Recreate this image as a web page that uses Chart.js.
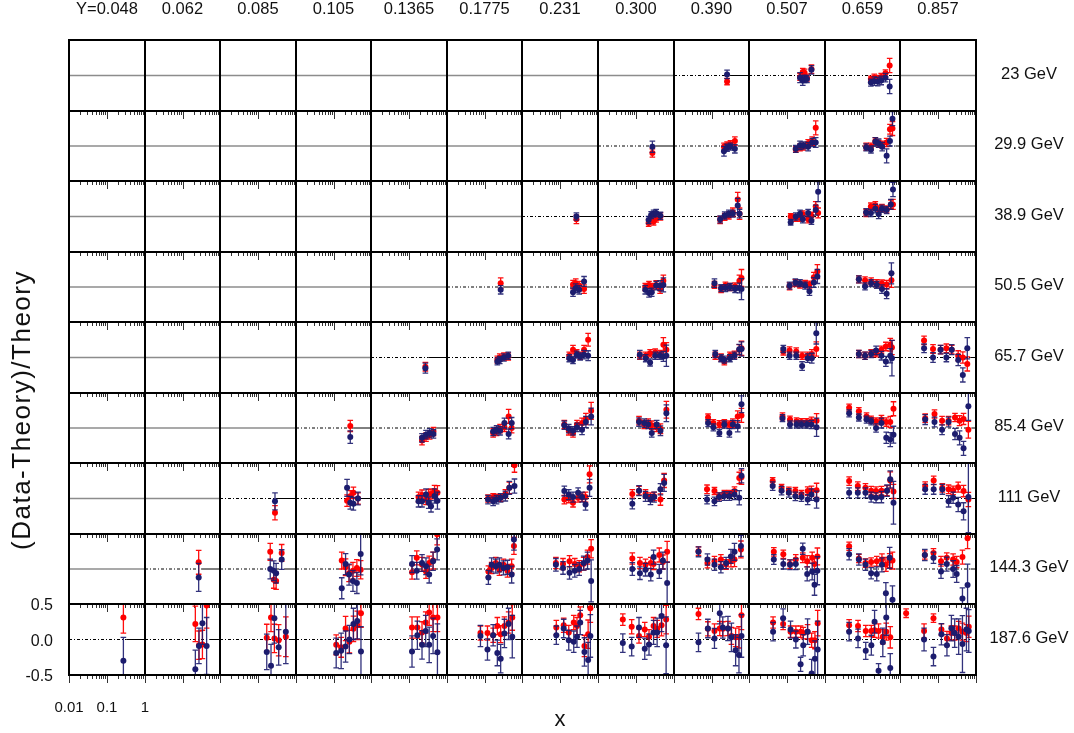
<!DOCTYPE html>
<html><head><meta charset="utf-8">
<script src="https://cdn.jsdelivr.net/npm/chart.js@4.4.1/dist/chart.umd.min.js"></script>
<style>
html,body{margin:0;padding:0;background:#fff;}
#wrap{position:relative;width:1074px;height:733px;overflow:hidden;font-family:'Liberation Sans',Arial,sans-serif;color:#111;}
#wrap canvas{position:absolute;}
.lbl{position:absolute;white-space:nowrap;line-height:1;text-align:center;}
</style></head><body><div id="wrap"></div>
<script>
// ---- labels ----
const yBins = ['Y=0.048','0.062','0.085','0.105','0.1365','0.1775','0.231','0.300','0.390','0.507','0.659','0.857'];
const energies = ['23 GeV','29.9 GeV','38.9 GeV','50.5 GeV','65.7 GeV','85.4 GeV','111 GeV','144.3 GeV','187.6 GeV'];
const yTickValues = [-0.5, 0, 0.5];
const yTickText = ['-0.5', '0.0', '0.5'];
const xLabelTicks = [0.01, 0.1, 1];
const xLabelText = ['0.01', '0.1', '1'];
const xMinorTicks = [0.02,0.03,0.04,0.05,0.06,0.07,0.08,0.09,0.2,0.3,0.4,0.5,0.6,0.7,0.8,0.9];
const xMajorTicks = [0.01, 0.1, 1];

// ---- data (panels with points) ----
const panelRow = [0,0,0, 1,1,1,1, 2,2,2,2,2, 3,3,3,3,3,3, 4,4,4,4,4,4,4,4,
  5,5,5,5,5,5,5,5,5, 6,6,6,6,6,6,6,6,6,6, 7,7,7,7,7,7,7,7,7,7,7, 8,8,8,8,8,8,8,8,8,8,8,8];
const panelCol = [8,9,10, 7,8,9,10, 6,7,8,9,10, 5,6,7,8,9,10, 4,5,6,7,8,9,10,11,
  3,4,5,6,7,8,9,10,11, 2,3,4,5,6,7,8,9,10,11, 1,2,3,4,5,6,7,8,9,10,11, 0,1,2,3,4,5,6,7,8,9,10,11];

const xVals = [
 [0.26],[0.22,0.26,0.29,0.335,0.44],[0.167,0.206,0.255,0.315,0.41,0.53],
 [0.27],[0.215,0.26,0.32,0.42],[0.17,0.22,0.27,0.36,0.46,0.57],[0.125,0.168,0.22,0.27,0.335,0.44,0.54,0.63],
 [0.27],[0.215,0.25,0.29,0.34,0.44],[0.17,0.225,0.29,0.37,0.5,0.56],[0.125,0.17,0.22,0.26,0.36,0.44,0.57,0.66],[0.125,0.167,0.22,0.27,0.33,0.44,0.57,0.65],
 [0.27],[0.22,0.26,0.32,0.43],[0.175,0.22,0.26,0.34,0.43,0.525],[0.12,0.18,0.235,0.31,0.425,0.555,0.63],[0.117,0.166,0.22,0.3,0.39,0.51,0.63],[0.08,0.117,0.17,0.24,0.33,0.44,0.59],
 [0.27],[0.22,0.255,0.33,0.43],[0.175,0.22,0.275,0.34,0.43,0.55],[0.126,0.18,0.235,0.32,0.43,0.525,0.63],[0.126,0.18,0.22,0.31,0.41,0.55,0.63],[0.08,0.117,0.175,0.25,0.35,0.45,0.59],[0.08,0.117,0.17,0.23,0.32,0.42,0.55,0.61],[0.043,0.074,0.117,0.166,0.23,0.34,0.45,0.59],
 [0.28],[0.22,0.28,0.35,0.44],[0.17,0.21,0.26,0.34,0.44,0.53],[0.13,0.17,0.22,0.28,0.38,0.48,0.66],[0.12,0.165,0.21,0.26,0.35,0.44,0.63],[0.081,0.112,0.162,0.22,0.3,0.37,0.5,0.63],[0.076,0.12,0.178,0.24,0.33,0.44,0.6],[0.044,0.08,0.128,0.17,0.23,0.32,0.43,0.55,0.67],[0.046,0.081,0.128,0.19,0.28,0.37,0.47,0.63],
 [0.28],[0.23,0.28,0.34,0.45],[0.178,0.22,0.28,0.33,0.38,0.47,0.56],[0.124,0.17,0.21,0.27,0.36,0.46,0.63],[0.13,0.17,0.22,0.3,0.38,0.47,0.6],[0.08,0.12,0.178,0.24,0.3,0.44,0.55],[0.076,0.12,0.16,0.22,0.3,0.41,0.55,0.63],[0.042,0.072,0.112,0.166,0.24,0.35,0.44,0.6],[0.044,0.075,0.12,0.17,0.23,0.32,0.45,0.55,0.67],[0.046,0.077,0.13,0.19,0.25,0.34,0.47,0.63],
 [0.27],[0.21,0.26,0.3,0.42],[0.166,0.21,0.26,0.33,0.42,0.53],[0.12,0.16,0.22,0.28,0.34,0.43,0.55],[0.127,0.155,0.2,0.25,0.32,0.41,0.53,0.61],[0.078,0.12,0.178,0.245,0.32,0.42,0.53,0.66],[0.08,0.127,0.178,0.245,0.29,0.41,0.51,0.66],[0.045,0.078,0.12,0.178,0.245,0.33,0.41,0.61],[0.045,0.08,0.12,0.17,0.26,0.34,0.46,0.53,0.63],[0.044,0.08,0.12,0.17,0.24,0.33,0.42,0.53,0.63],[0.045,0.076,0.12,0.17,0.25,0.31,0.44,0.6],
 [0.27],[0.22,0.275,0.34,0.44],[0.17,0.22,0.27,0.35,0.54],[0.118,0.16,0.21,0.265,0.34,0.43,0.54],[0.12,0.166,0.22,0.275,0.34,0.43,0.56],[0.078,0.12,0.17,0.22,0.27,0.34,0.44,0.55],[0.08,0.125,0.17,0.23,0.28,0.34,0.44,0.55,0.63],[0.045,0.077,0.12,0.17,0.22,0.29,0.36,0.47,0.62],[0.045,0.08,0.12,0.166,0.2,0.275,0.34,0.44,0.54,0.63],[0.043,0.079,0.124,0.171,0.228,0.268,0.348,0.445,0.543,0.641],[0.044,0.076,0.122,0.172,0.21,0.268,0.348,0.43,0.55],[0.0145,0.043,0.076,0.123,0.172,0.225,0.275,0.35,0.44,0.56,0.645]
];

const redVals = [
 [-0.085],[-0.02,0.05,0.04,-0.03,0.09],[-0.05,-0.03,-0.05,-0.02,0.03,0.14],
 [-0.1],[-0.01,0.01,0.025,0.07],[-0.05,-0.02,-0.01,0.04,0.07,0.26],[-0.01,-0.01,0.07,0.03,0.02,0.05,0.24,0.25],
 [-0.04],[-0.09,-0.04,-0.07,-0.03,0.0],[-0.05,-0.005,0.015,0.06,0.24,0.04],[0.0,-0.02,-0.02,0.03,-0.04,0.01,0.14,0.05],[0.05,0.14,0.16,0.1,0.12,0.1,0.17,0.17],
 [0.055],[0.035,0.055,0.02,-0.03],[0.0,0.03,0.0,0.03,-0.03,0.09],[0.03,-0.03,0.02,0.0,0.01,0.09,0.13],[0.01,0.055,0.035,0.045,0.035,0.14,0.22],[0.11,0.095,0.08,0.055,0.05,0.035,0.095],
 [-0.13],[-0.03,0.0,0.015,0.015],[0.025,0.11,0.06,0.025,0.11,0.25],[0.025,0.025,0.06,0.07,0.05,0.18,0.11],[0.025,0.0,-0.055,0.025,0.04,0.11,0.13],[0.085,0.1,0.085,0.025,0.025,0.05,0.12],[0.05,0.025,0.06,0.06,0.11,0.155,0.18,0.14],[0.24,0.12,0.11,0.13,0.11,0.025,0.0,-0.09],
 [0.03],[-0.18,-0.13,-0.1,-0.05],[-0.07,-0.05,-0.01,0.01,0.165,0.0],[0.05,-0.04,-0.07,0.05,0.07,0.13,0.245],[0.105,0.05,0.07,0.04,0.01,-0.01,0.26],[0.15,0.07,0.055,0.07,0.05,0.07,0.165,0.18],[0.165,0.12,0.095,0.085,0.085,0.095,0.105],[0.29,0.24,0.165,0.12,0.095,0.12,0.085,0.085,0.275],[0.14,0.2,0.105,0.105,0.15,0.105,0.13,-0.025],
 [-0.2],[-0.03,0.03,0.08,0.0],[0.02,0.05,-0.015,0.055,0.065,0.105,0.08],[0.0,0.02,0.01,0.01,0.065,0.15,0.47],[-0.015,0.0,-0.06,0.01,0.02,0.02,0.34],[0.065,0.11,0.065,0.02,0.03,-0.015,0.255],[0.13,0.105,0.03,0.065,0.065,0.105,0.29,0.3],[0.245,0.15,0.11,0.105,0.065,0.105,0.105,0.115],[0.245,0.175,0.15,0.11,0.105,0.11,0.11,0.255,0.1],[0.175,0.255,0.15,0.13,0.115,0.16,0.105,-0.015],
 [0.095],[0.245,-0.155,-0.17,0.23],[0.12,0.025,-0.06,-0.025,0.015,-0.01],[-0.045,0.16,0.065,-0.035,0.085,0.12,0.495],[-0.035,0.015,0.085,-0.01,0.06,-0.025,0.04,0.33],[0.085,0.07,0.11,0.07,0.04,0.075,0.17,0.29],[0.15,0.085,0.06,0.085,0.07,0.2,0.1,0.245],[0.255,0.085,0.11,0.135,0.065,0.11,0.135,0.28],[0.245,0.21,0.07,0.135,0.16,0.11,0.16,0.07,0.18],[0.325,0.15,0.085,0.1,0.11,0.135,0.065,0.12,0.12],[0.2,0.23,0.11,0.16,0.135,0.1,0.17,0.44],
 [0.31],[0.22,-0.08,-0.07,0.48],[0.025,0.31,0.015,-0.01,0.04],[-0.075,-0.11,0.155,-0.03,0.15,0.2,0.37],[0.17,0.17,0.1,0.24,0.38,0.31,0.31],[0.09,0.09,0.06,0.19,0.075,0.19,0.24,0.31],[0.17,0.2,0.1,0.24,0.19,0.34,-0.09,0.075,0.44],[0.28,0.18,0.05,0.14,0.04,0.19,0.15,0.2,0.28],[0.36,0.15,0.12,0.155,0.15,0.155,0.05,0.03,0.03,0.34],[0.24,0.22,0.11,0.11,0.11,0.09,0.11,-0.01,-0.01,0.23],[0.2,0.19,0.12,0.12,0.13,0.12,0.04,0.11,0.03],[0.37,0.12,0.3,0.14,0.015,0.09,0.09,0.155,0.11,0.09,0.18]
];
const redErrs = [
 [0.045],[0.05,0.05,0.05,0.05,0.06],[0.04,0.05,0.05,0.05,0.05,0.1],
 [0.06],[0.05,0.05,0.05,0.06],[0.04,0.05,0.05,0.05,0.06,0.1],[0.05,0.05,0.05,0.05,0.05,0.06,0.07,0.1],
 [0.06],[0.05,0.05,0.05,0.05,0.05],[0.05,0.05,0.05,0.06,0.1,0.08],[0.04,0.05,0.05,0.05,0.05,0.05,0.07,0.07],[0.05,0.05,0.05,0.05,0.05,0.05,0.06,0.07],
 [0.075],[0.06,0.06,0.06,0.06],[0.05,0.05,0.05,0.06,0.06,0.08],[0.05,0.05,0.05,0.05,0.05,0.08,0.12],[0.05,0.05,0.05,0.05,0.05,0.07,0.1],[0.05,0.05,0.05,0.05,0.05,0.06,0.1],
 [0.06],[0.05,0.05,0.05,0.05],[0.05,0.06,0.05,0.05,0.06,0.09],[0.05,0.05,0.05,0.05,0.05,0.1,0.1],[0.05,0.05,0.05,0.05,0.05,0.07,0.1],[0.05,0.05,0.05,0.05,0.05,0.06,0.1],[0.05,0.05,0.05,0.05,0.05,0.06,0.09,0.1],[0.06,0.06,0.06,0.06,0.06,0.07,0.08,0.1],
 [0.08],[0.06,0.06,0.06,0.06],[0.06,0.06,0.06,0.06,0.1,0.07],[0.06,0.06,0.06,0.06,0.07,0.08,0.12],[0.06,0.06,0.06,0.06,0.06,0.07,0.12],[0.05,0.05,0.05,0.05,0.05,0.06,0.08,0.1],[0.05,0.05,0.05,0.05,0.05,0.06,0.1],[0.05,0.05,0.05,0.05,0.05,0.06,0.06,0.08,0.1],[0.06,0.06,0.06,0.06,0.06,0.07,0.08,0.12],
 [0.1],[0.08,0.08,0.08,0.08],[0.07,0.07,0.07,0.07,0.07,0.08,0.1],[0.05,0.05,0.05,0.05,0.06,0.08,0.1],[0.06,0.06,0.06,0.06,0.06,0.07,0.12],[0.06,0.06,0.06,0.06,0.06,0.08,0.1],[0.06,0.05,0.05,0.05,0.05,0.06,0.08,0.1],[0.05,0.05,0.05,0.05,0.05,0.06,0.07,0.1],[0.06,0.06,0.06,0.06,0.06,0.06,0.07,0.12,0.1],[0.06,0.06,0.06,0.06,0.06,0.07,0.08,0.1],
 [0.17],[0.12,0.12,0.12,0.12],[0.12,0.12,0.12,0.12,0.12,0.13],[0.1,0.1,0.1,0.1,0.1,0.12,0.15],[0.08,0.08,0.08,0.08,0.08,0.09,0.1,0.12],[0.08,0.08,0.08,0.08,0.08,0.09,0.1,0.13],[0.08,0.08,0.08,0.08,0.08,0.1,0.1,0.15],[0.06,0.07,0.07,0.07,0.07,0.08,0.1,0.12],[0.06,0.06,0.06,0.07,0.07,0.08,0.08,0.1,0.12],[0.06,0.06,0.06,0.06,0.07,0.08,0.1,0.1,0.12],[0.06,0.06,0.07,0.07,0.08,0.08,0.1,0.15],
 [0.22],[0.25,0.2,0.2,0.32],[0.19,0.2,0.2,0.22,0.28],[0.14,0.14,0.17,0.16,0.18,0.2,0.2],[0.15,0.15,0.15,0.15,0.18,0.2,0.2],[0.1,0.1,0.1,0.12,0.12,0.13,0.15,0.18],[0.1,0.1,0.1,0.1,0.12,0.12,0.15,0.2,0.2],[0.08,0.1,0.1,0.1,0.1,0.12,0.12,0.15,0.2],[0.08,0.1,0.1,0.1,0.1,0.1,0.12,0.13,0.15,0.2],[0.08,0.08,0.08,0.08,0.08,0.08,0.1,0.1,0.12,0.18],[0.08,0.08,0.08,0.08,0.1,0.1,0.1,0.12,0.15],[0.06,0.1,0.06,0.08,0.1,0.1,0.1,0.1,0.12,0.12,0.15]
];
const blueVals = [
 [0.015],[-0.03,-0.07,-0.05,-0.05,0.08],[-0.1,-0.08,-0.085,-0.07,-0.03,-0.155],
 [-0.01],[-0.075,-0.025,-0.01,-0.04],[-0.04,0.01,0.01,-0.01,0.05,0.05],[-0.02,-0.05,0.06,0.04,-0.01,-0.14,0.07,0.39],
 [0.0],[-0.05,0.02,0.04,0.05,0.01],[-0.04,0.015,0.04,0.04,0.155,0.04],[-0.08,0.0,0.04,-0.04,0.05,-0.06,0.09,0.35],[0.06,0.05,0.11,0.03,0.11,0.09,0.17,0.38],
 [-0.04],[-0.075,-0.015,-0.04,0.08],[-0.04,-0.085,-0.075,0.02,0.02,0.03],[0.055,-0.015,-0.015,0.0,-0.03,-0.015,-0.03],[0.02,0.065,0.055,0.02,-0.06,0.065,0.15],[0.11,0.01,0.055,0.03,-0.03,-0.095,0.195],
 [-0.15],[-0.055,-0.035,0.0,0.025],[-0.01,-0.035,0.04,0.015,0.04,0.025],[0.04,-0.01,-0.07,0.025,0.025,0.015,0.025],[0.05,-0.01,-0.03,-0.01,0.025,0.115,0.12],[0.12,0.025,0.025,-0.12,-0.01,-0.01,0.34],[0.05,0.025,0.05,0.1,0.025,-0.055,0.025,-0.01],[0.13,0.0,0.11,0.0,0.11,-0.035,-0.245,0.13],
 [-0.13],[-0.14,-0.095,-0.07,-0.085],[-0.05,-0.025,-0.04,0.07,-0.085,0.07],[0.04,-0.01,-0.04,0.01,-0.025,0.085,0.165],[0.085,0.07,0.05,-0.07,0.05,-0.04,0.21],[0.07,0.01,-0.07,0.05,-0.07,0.05,0.025,0.34],[0.14,0.05,0.05,0.05,0.05,0.05,0.01],[0.21,0.15,0.12,0.095,0.0,0.07,-0.14,-0.165,-0.095],[0.12,0.085,-0.025,0.085,-0.085,-0.14,-0.29,0.31],
 [-0.04],[0.15,-0.06,-0.075,0.0],[-0.04,-0.04,0.055,-0.06,-0.11,0.035,-0.03],[-0.015,-0.04,-0.015,0.01,0.035,0.15,0.175],[0.105,0.055,0.02,0.08,0.02,-0.085,0.15],[-0.075,0.11,0.03,-0.015,0.02,0.13,0.22],[-0.015,-0.04,0.02,0.035,0.035,0.055,0.01,0.32],[0.175,0.11,0.08,0.03,0.02,-0.015,0.055,-0.015],[0.08,0.08,0.08,0.02,0.01,0.02,0.11,0.27,-0.06],[0.13,0.13,0.13,-0.04,0.01,-0.085,-0.18,0.02],
 [-0.12],[0.0,-0.025,-0.06,0.135],[-0.275,0.07,-0.08,-0.17,-0.2,0.215],[0.07,-0.025,0.085,0.04,-0.08,0.11,0.28],[-0.12,0.06,0.04,0.06,0.015,0.025,-0.08,0.42],[0.06,0.015,-0.055,-0.025,0.0,0.085,0.12,-0.17],[0.0,-0.06,-0.01,-0.08,0.17,-0.035,0.12,-0.2],[0.245,0.135,0.06,0.025,0.085,0.18,0.245,0.33],[0.135,0.07,0.06,0.07,0.29,-0.07,-0.035,-0.225,-0.025],[0.21,0.135,0.06,-0.06,-0.07,0.06,-0.345,0.16,-0.44],[0.2,0.16,-0.035,0.07,0.0,-0.07,-0.42,-0.23],
 [-0.3],[-0.42,-0.09,0.23,-0.09],[-0.175,-0.37,0.3,-0.11,0.11],[-0.19,-0.16,-0.1,0.0,0.22,0.26,-0.17],[-0.17,0.06,-0.075,0.12,-0.075,0.05,-0.18],[0.05,-0.14,0.06,-0.19,-0.27,0.085,0.22,0.04],[0.06,0.155,-0.01,-0.03,0.04,0.24,-0.175,-0.29,0.05],[-0.05,-0.1,0.17,-0.13,-0.07,0.1,0.1,0.33,-0.08],[-0.04,0.155,0.015,0.37,0.17,0.155,0.03,-0.15,-0.22,0.05],[0.11,0.3,0.14,0.0,-0.35,-0.08,0.11,-0.48,-0.27,-0.14],[0.11,0.015,-0.16,-0.08,0.25,-0.44,-0.04,0.31,-0.4],[null,0.0,-0.24,0.075,-0.08,0.16,0.09,0.04,-0.065,0.14,0.12]
];
const blueErrs = [
 [0.06],[0.07,0.07,0.05,0.05,0.06],[0.05,0.06,0.06,0.06,0.06,0.1],
 [0.08],[0.07,0.05,0.05,0.06],[0.05,0.06,0.05,0.06,0.06,0.07],[0.05,0.05,0.06,0.06,0.06,0.1,0.07,0.1],
 [0.05],[0.05,0.05,0.05,0.05,0.05],[0.05,0.05,0.05,0.05,0.1,0.06],[0.04,0.05,0.05,0.05,0.05,0.05,0.07,0.14],[0.05,0.05,0.06,0.06,0.05,0.05,0.07,0.1],
 [0.06],[0.06,0.06,0.06,0.07],[0.06,0.06,0.06,0.06,0.07,0.1],[0.06,0.05,0.05,0.05,0.05,0.07,0.15],[0.05,0.05,0.05,0.05,0.06,0.07,0.1],[0.05,0.05,0.05,0.05,0.06,0.07,0.15],
 [0.07],[0.05,0.05,0.05,0.05],[0.05,0.05,0.05,0.05,0.06,0.07],[0.06,0.05,0.05,0.05,0.05,0.07,0.15],[0.05,0.05,0.05,0.05,0.05,0.07,0.1],[0.05,0.05,0.05,0.06,0.06,0.07,0.15],[0.05,0.05,0.05,0.06,0.06,0.07,0.1,0.25],[0.06,0.07,0.06,0.06,0.07,0.08,0.1,0.15],
 [0.09],[0.06,0.06,0.06,0.06],[0.06,0.06,0.06,0.07,0.07,0.08],[0.06,0.06,0.06,0.06,0.07,0.08,0.12],[0.06,0.06,0.06,0.06,0.06,0.07,0.12],[0.05,0.05,0.05,0.05,0.06,0.06,0.08,0.12],[0.05,0.05,0.05,0.05,0.05,0.06,0.13],[0.05,0.05,0.05,0.05,0.06,0.07,0.08,0.1,0.12],[0.07,0.07,0.07,0.07,0.08,0.1,0.1,0.2],
 [0.12],[0.12,0.09,0.09,0.09],[0.08,0.08,0.08,0.08,0.08,0.1,0.12],[0.06,0.06,0.06,0.06,0.07,0.09,0.1],[0.07,0.07,0.07,0.07,0.07,0.08,0.12],[0.07,0.07,0.07,0.07,0.07,0.08,0.12],[0.06,0.06,0.06,0.06,0.06,0.07,0.1,0.1],[0.06,0.06,0.06,0.06,0.06,0.07,0.08,0.12],[0.07,0.07,0.07,0.07,0.07,0.08,0.08,0.12,0.3],[0.07,0.07,0.07,0.08,0.08,0.1,0.12,0.5],
 [0.2],[0.14,0.14,0.14,0.14],[0.15,0.15,0.15,0.15,0.15,0.3],[0.12,0.12,0.12,0.12,0.12,0.13,0.15],[0.1,0.1,0.1,0.1,0.1,0.1,0.12,0.15],[0.09,0.09,0.09,0.09,0.09,0.1,0.12,0.3],[0.09,0.09,0.09,0.09,0.1,0.1,0.12,0.3],[0.07,0.08,0.08,0.08,0.08,0.1,0.12,0.15],[0.07,0.07,0.07,0.08,0.08,0.1,0.12,0.15,0.2],[0.08,0.08,0.08,0.08,0.1,0.1,0.15,0.15,0.2],[0.08,0.08,0.1,0.1,0.12,0.12,0.15,0.3],
 [0.33],[0.27,0.25,0.3,0.4],[0.25,0.3,0.35,0.25,0.45],[0.21,0.25,0.22,0.2,0.22,0.25,0.35],[0.22,0.2,0.2,0.22,0.25,0.25,0.4],[0.15,0.15,0.15,0.18,0.2,0.2,0.22,0.3],[0.13,0.13,0.14,0.15,0.15,0.17,0.2,0.25,0.3],[0.13,0.13,0.14,0.15,0.15,0.17,0.2,0.22,0.4],[0.13,0.13,0.14,0.15,0.15,0.17,0.2,0.22,0.25,0.3],[0.13,0.13,0.12,0.12,0.1,0.15,0.18,0.2,0.25,0.4],[0.13,0.13,0.12,0.14,0.16,0.1,0.2,0.25,0.2],[null,0.16,0.13,0.15,0.15,0.18,0.2,0.25,0.4,0.3,0.3]
];

// ---- styling / layout (not data) ----
const RED = '#ff0000', BLUE = '#1c1c6e';
const GRID_X0 = 69, GRID_Y0 = 40, COL_W = 75.58, ROW_H = 70.56, NCOL = 12, NROW = 9, PAD = 10;
const colEdge = c => Math.round(GRID_X0 + c * COL_W);
const rowEdge = r => Math.round(GRID_Y0 + r * ROW_H);
const FONT = "'Liberation Sans', Arial, sans-serif";
Chart.defaults.font.family = FONT;

const panelPlugin = {
  id: 'panel',
  beforeDatasetsDraw(chart, args, opts) {
    const {ctx, chartArea: a, scales: {x, y}} = chart;
    const y0 = y.getPixelForValue(0);
    ctx.save();
    if (!opts.hasData) {
      ctx.strokeStyle = '#8c8c8c'; ctx.lineWidth = 1.6;
      ctx.beginPath(); ctx.moveTo(a.left, y0); ctx.lineTo(a.right, y0); ctx.stroke();
    } else {
      const xe = x.getPixelForValue(opts.xmax) + 3;
      ctx.strokeStyle = '#000'; ctx.lineWidth = 1;
      ctx.setLineDash([3, 2, 1, 2]);
      ctx.beginPath(); ctx.moveTo(a.left, y0); ctx.lineTo(xe, y0); ctx.stroke();
      ctx.setLineDash([]);
      ctx.beginPath(); ctx.moveTo(xe, y0); ctx.lineTo(a.right, y0); ctx.stroke();
    }
    ctx.restore();
  },
  beforeDatasetDraw(chart, args) {
    const ds = chart.data.datasets[args.index];
    if (!ds.errors) return;
    const {ctx, chartArea: a, scales: {x, y}} = chart;
    ctx.save();
    ctx.beginPath(); ctx.rect(a.left, a.top, a.right - a.left, a.bottom - a.top); ctx.clip();
    ctx.strokeStyle = ds.errorColor; ctx.lineWidth = 1.3;
    ds.data.forEach((p, i) => {
      const e = ds.errors[i];
      const px = x.getPixelForValue(p.x);
      const yt = y.getPixelForValue(p.y + e), yb = y.getPixelForValue(p.y - e);
      ctx.beginPath();
      ctx.moveTo(px, yt); ctx.lineTo(px, yb);
      ctx.moveTo(px - 2.8, yt); ctx.lineTo(px + 2.8, yt);
      ctx.moveTo(px - 2.8, yb); ctx.lineTo(px + 2.8, yb);
      ctx.stroke();
    });
    ctx.restore();
  },
  afterDraw(chart) {
    const {ctx, chartArea: a, scales: {x}} = chart;
    ctx.save();
    ctx.strokeStyle = '#333'; ctx.lineWidth = 1;
    ctx.beginPath();
    xMinorTicks.forEach(t => { const px = Math.round(x.getPixelForValue(t)) + 0.5; ctx.moveTo(px, a.bottom); ctx.lineTo(px, a.bottom + 4); });
    xMajorTicks.forEach(t => { const px = Math.round(x.getPixelForValue(t)) + 0.5; ctx.moveTo(px, a.bottom); ctx.lineTo(px, a.bottom + 8); });
    ctx.stroke();
    ctx.strokeStyle = '#000'; ctx.lineWidth = 2;
    ctx.strokeRect(a.left, a.top, a.right - a.left, a.bottom - a.top);
    ctx.restore();
  }
};

const wrap = document.getElementById('wrap');

function addLabel(text, left, top, width, size, extra) {
  const d = document.createElement('div');
  d.className = 'lbl';
  d.textContent = text;
  d.style.left = left + 'px'; d.style.top = top + 'px'; d.style.width = width + 'px';
  d.style.fontSize = size + 'px';
  if (extra) Object.assign(d.style, extra);
  wrap.appendChild(d);
}

for (let r = 0; r < NROW; r++) {
  for (let c = 0; c < NCOL; c++) {
    let k = -1;
    for (let i = 0; i < panelRow.length; i++) if (panelRow[i] === r && panelCol[i] === c) k = i;
    const L = colEdge(c), R = colEdge(c + 1), T = rowEdge(r), B = rowEdge(r + 1);
    const cl = L - PAD, ct = T - PAD, cr = R + PAD, cb = B + PAD;
    const cv = document.createElement('canvas');
    cv.width = cr - cl; cv.height = cb - ct;
    cv.style.left = cl + 'px'; cv.style.top = ct + 'px';
    cv.style.width = (cr - cl) + 'px'; cv.style.height = (cb - ct) + 'px';
    wrap.appendChild(cv);

    const datasets = [];
    let xmax = 0.3;
    if (k >= 0) {
      const bData = [], bErr = [], rData = [], rErr = [];
      xVals[k].forEach((xv, i) => {
        if (blueVals[k][i] !== null) { bData.push({x: xv, y: blueVals[k][i]}); bErr.push(blueErrs[k][i]); }
        if (redVals[k][i] !== null) { rData.push({x: xv, y: redVals[k][i]}); rErr.push(redErrs[k][i]); }
      });
      xmax = Math.max(...xVals[k]);
      datasets.push({label: 'blue', data: bData, errors: bErr, errorColor: 'rgba(28,28,110,0.9)',
        pointRadius: 3, pointBackgroundColor: BLUE, pointBorderWidth: 0, showLine: false});
      datasets.push({label: 'red', data: rData, errors: rErr, errorColor: 'rgba(255,0,0,0.95)',
        pointRadius: 3, pointBackgroundColor: RED, pointBorderWidth: 0, showLine: false});
    }

    const ch = new Chart(cv, {
      type: 'scatter',
      data: {datasets},
      options: {
        responsive: false, animation: false, events: [],
        devicePixelRatio: 1,
        layout: {padding: {left: PAD, top: PAD, right: PAD, bottom: PAD}},
        scales: {
          x: {type: 'logarithmic', min: 0.01, max: 1, display: false},
          y: {type: 'linear', min: -0.5, max: 0.5, display: false}
        },
        plugins: {legend: {display: false}, tooltip: {enabled: false}, panel: {hasData: k >= 0, xmax}}
      },
      plugins: [panelPlugin]
    });

    // axis tick labels of the bottom-left panel, placed from the chart's own scales
    if (r === NROW - 1 && c === 0) {
      yTickValues.forEach((v, i) => {
        const py = ct + ch.scales.y.getPixelForValue(v);
        addLabel(yTickText[i], 3, py + 1 - 7.8, 50, 16, {textAlign: 'right'});
      });
      xLabelTicks.forEach((v, i) => {
        const px = cl + ch.scales.x.getPixelForValue(v);
        addLabel(xLabelText[i], px - 25, B + 24.4, 50, 15);
      });
    }
  }
}

// column labels
yBins.forEach((t, c) => {
  const cx = (colEdge(c) + colEdge(c + 1)) / 2;
  addLabel(t, cx - 50, 0, 100, 16.5);
});
// row labels
energies.forEach((t, r) => {
  const zy = (rowEdge(r) + rowEdge(r + 1)) / 2;
  addLabel(t, 1029 - 50, zy - 11, 100, 16.5);
});
// axis titles
addLabel('(Data-Theory)/Theory', 21 - 200, 410 - 13, 400, 26, {transform: 'rotate(-90deg)', transformOrigin: '50% 50%', letterSpacing: '1.5px'});
addLabel('x', 560 - 20, 708, 40, 22);
</script>
</body></html>
